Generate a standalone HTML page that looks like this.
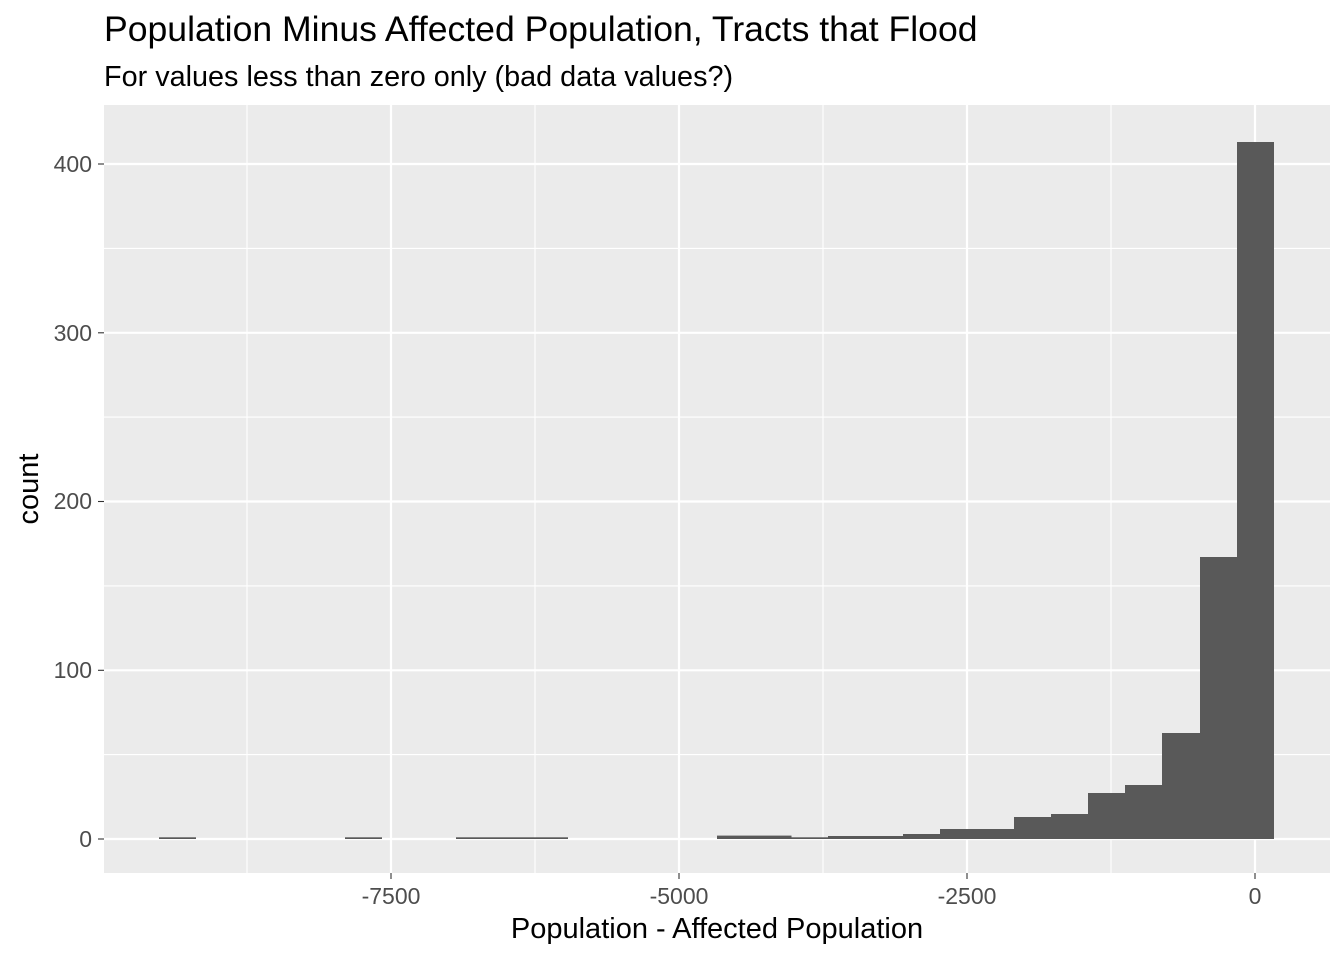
<!DOCTYPE html><html><head><style>body{margin:0;background:#fff}</style></head><body>
<svg width="1344" height="960" xmlns="http://www.w3.org/2000/svg" font-family="Liberation Sans, sans-serif">
<rect width="1344" height="960" fill="#fff"/>
<text x="104" y="41" font-size="35.6" fill="#000">Population Minus Affected Population, Tracts that Flood</text>
<text x="104" y="86" font-size="28.8" fill="#000">For values less than zero only (bad data values?)</text>
<rect x="104" y="105" width="1226" height="768" fill="#ebebeb"/>
<g stroke="#fff" stroke-width="1.1">
<line x1="104" x2="1330" y1="754.6" y2="754.6"/><line x1="104" x2="1330" y1="585.9" y2="585.9"/><line x1="104" x2="1330" y1="417.1" y2="417.1"/><line x1="104" x2="1330" y1="248.4" y2="248.4"/>
<line x1="247" x2="247" y1="105" y2="873"/><line x1="535" x2="535" y1="105" y2="873"/><line x1="823" x2="823" y1="105" y2="873"/><line x1="1111" x2="1111" y1="105" y2="873"/>
</g>
<g stroke="#fff" stroke-width="2.2">
<line x1="104" x2="1330" y1="839" y2="839"/><line x1="104" x2="1330" y1="670.3" y2="670.3"/><line x1="104" x2="1330" y1="501.5" y2="501.5"/><line x1="104" x2="1330" y1="332.8" y2="332.8"/><line x1="104" x2="1330" y1="164" y2="164"/>
<line x1="391" x2="391" y1="105" y2="873"/><line x1="679" x2="679" y1="105" y2="873"/><line x1="967" x2="967" y1="105" y2="873"/><line x1="1255" x2="1255" y1="105" y2="873"/>
</g>
<g fill="#595959">
<rect x="1237" y="142" width="37" height="697"/>
<rect x="1200" y="557" width="37.5" height="282"/>
<rect x="1162" y="733" width="38.5" height="106"/>
<rect x="1125" y="785" width="37.5" height="54"/>
<rect x="1088" y="793" width="37.5" height="46"/>
<rect x="1051" y="814" width="37.5" height="25"/>
<rect x="1014" y="817" width="37.5" height="22"/>
<rect x="940" y="829" width="74.5" height="10"/>
<rect x="903" y="834" width="37.5" height="5"/>
<rect x="828" y="836" width="75.5" height="3"/>
<rect x="791" y="837.3" width="37.5" height="1.7"/>
<rect x="717" y="835.6" width="74.5" height="3.4"/>
<rect x="456" y="837.3" width="112" height="1.7"/>
<rect x="345" y="837.3" width="37" height="1.7"/>
<rect x="159" y="837.3" width="37" height="1.7"/>
</g>
<g font-size="23" fill="#4d4d4d" text-anchor="end">
<text x="92" y="847">0</text><text x="92" y="678">100</text><text x="92" y="509">200</text><text x="92" y="341">300</text><text x="92" y="172">400</text>
</g>
<g stroke="#333" stroke-width="1.1">
<line x1="98" x2="104" y1="839" y2="839"/><line x1="98" x2="104" y1="670.3" y2="670.3"/><line x1="98" x2="104" y1="501.5" y2="501.5"/><line x1="98" x2="104" y1="332.8" y2="332.8"/><line x1="98" x2="104" y1="164" y2="164"/>
<line x1="391" x2="391" y1="873" y2="879"/><line x1="679" x2="679" y1="873" y2="879"/><line x1="967" x2="967" y1="873" y2="879"/><line x1="1255" x2="1255" y1="873" y2="879"/>
</g>
<g font-size="23" fill="#4d4d4d" text-anchor="middle">
<text x="391" y="904">-7500</text><text x="679" y="904">-5000</text><text x="967" y="904">-2500</text><text x="1255" y="904">0</text>
</g>
<text x="717" y="938" font-size="29" text-anchor="middle" fill="#000">Population - Affected Population</text>
<text x="38" y="489" font-size="29" text-anchor="middle" fill="#000" transform="rotate(-90 38 489)">count</text>
</svg></body></html>
